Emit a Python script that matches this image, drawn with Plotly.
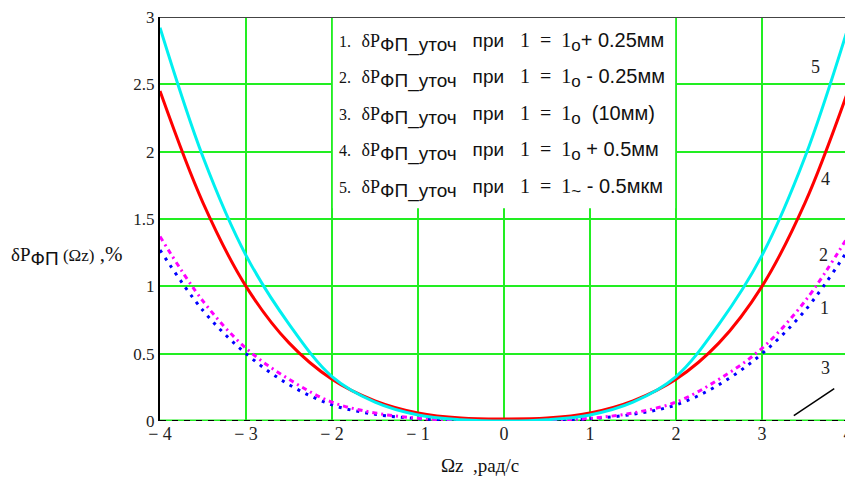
import plotly.graph_objects as go

omega = [-4, -3.5, -3, -2.5, -2, -1.5, -1, -0.5, 0, 0.5, 1, 1.5, 2, 2.5, 3, 3.5, 4]
curve1 = [1.27, 0.82, 0.50, 0.27, 0.12, 0.05, 0.017, 0.003, 0.0, 0.003, 0.017, 0.05, 0.12, 0.27, 0.50, 0.82, 1.27]
curve2 = [1.37, 0.89, 0.54, 0.31, 0.14, 0.06, 0.02, 0.004, 0.0, 0.004, 0.02, 0.06, 0.14, 0.31, 0.54, 0.89, 1.37]
curve3 = [0.0] * 17
curve4 = [2.45, 1.62, 1.0, 0.58, 0.31, 0.15, 0.06, 0.022, 0.015, 0.022, 0.06, 0.15, 0.31, 0.58, 1.0, 1.62, 2.45]
curve5 = [2.92, 1.96, 1.23, 0.72, 0.33, 0.14, 0.045, 0.01, 0.0, 0.01, 0.045, 0.14, 0.33, 0.72, 1.23, 1.96, 2.92]

pointer_x = [3.37, 3.84]
pointer_y = [0.04, 0.24]

label_text = ["5", "4", "2", "1", "3"]
label_x = [3.62, 3.74, 3.71, 3.73, 3.74]
label_y = [2.63, 1.80, 1.23, 0.84, 0.39]

x_ticks = [-4, -3, -2, -1, 0, 1, 2, 3, 4]
x_ticktext = ["\u2212 4", "\u2212 3", "\u2212 2", "\u2212 1", "0", "1", "2", "3", "4"]
y_ticks = [0, 0.5, 1, 1.5, 2, 2.5, 3]
y_ticktext = ["0", "0.5", "1", "1.5", "2", "2.5", "3"]

legend_nums = ["1.", "2.", "3.", "4.", "5."]
legend_subs = ["o", "o", "o", "o", "~"]
legend_tails = ["+ 0.25мм", " - 0.25мм", " &nbsp;(10мм)", " + 0.5мм", " - 0.5мкм"]
legend_y = [2.81, 2.54, 2.27, 2.00, 1.73]

SERIF = "Liberation Serif"
SANS = "Liberation Sans"
GRID = "#22ee22"

fig = go.Figure()

fig.add_trace(go.Scatter(x=omega, y=curve3, mode="lines",
                         line=dict(color=GRID, width=3), showlegend=False, cliponaxis=False))
fig.add_trace(go.Scatter(x=omega, y=curve3, mode="lines",
                         line=dict(color="black", width=2, dash="6px,6px"), showlegend=False,
                         cliponaxis=False))
fig.add_trace(go.Scatter(x=omega, y=curve1, mode="lines", line_shape="spline",
                         line=dict(color="#0000ff", width=3, dash="3px,6px"), showlegend=False))
fig.add_trace(go.Scatter(x=omega, y=curve2, mode="lines", line_shape="spline",
                         line=dict(color="#ff00ff", width=3, dash="5px,4px,2px,4px"), showlegend=False))
fig.add_trace(go.Scatter(x=omega, y=curve4, mode="lines", line_shape="spline",
                         line=dict(color="#ff0000", width=3), showlegend=False))
fig.add_trace(go.Scatter(x=omega, y=curve5, mode="lines", line_shape="spline",
                         line=dict(color="#00f0f0", width=3), showlegend=False))
fig.add_trace(go.Scatter(x=pointer_x, y=pointer_y, mode="lines",
                         line=dict(color="black", width=1.5), showlegend=False))

for t, lx, ly in zip(label_text, label_x, label_y):
    fig.add_annotation(x=lx, y=ly, text=t, showarrow=False,
                       font=dict(family=SERIF, size=18, color="#222"))

# legend box
fig.add_shape(type="rect", xref="x", yref="y", x0=-1.99, x1=1.99, y0=1.58, y1=3,
              fillcolor="white", line=dict(width=0), layer="above")
fig.add_shape(type="line", xref="x", yref="y", x0=-4, x1=4, y0=3, y1=3,
              line=dict(color="#444", width=2), layer="above")

for num, sub, tail, yy in zip(legend_nums, legend_subs, legend_tails, legend_y):
    txt = (f"<span style='font-family:{SERIF};font-size:16px'>{num}</span>&nbsp; "
           f"<span style='font-family:{SERIF};font-size:18px'>δP</span>"
           f"<sub><span style='font-family:{SANS};font-size:19px'>ФП_уточ</span></sub>"
           f"&nbsp; &nbsp;при&nbsp; &nbsp;"
           f"<span style='font-family:{SERIF};font-size:20px'>1 &nbsp;=&nbsp; 1</span>"
           f"<sub><span style='font-family:{SANS};font-size:17px'>{sub}</span></sub>"
           f"<span style='font-size:20px'>{tail}</span>")
    fig.add_annotation(x=-1.94, y=yy, xanchor="left", yanchor="middle", text=txt,
                       showarrow=False, font=dict(family=SANS, size=19, color="#111"))

# axis titles
fig.add_annotation(xref="paper", yref="paper", x=-0.219, y=0.41, xanchor="left",
                   yanchor="middle",
                   text=(f"<span style='font-family:{SERIF};font-size:19px'>δP</span>"
                         f"<sub><span style='font-family:{SANS};font-size:19px'>ФП</span></sub>"
                         f"<span style='font-family:{SERIF};font-size:17px'> (Ωz)</span>"
                         f"<span style='font-family:{SERIF};font-size:21px'> ,%</span>"),
                   showarrow=False, font=dict(family=SERIF, size=19, color="#111"))
fig.add_annotation(xref="paper", yref="paper", x=0.405, y=-0.11, xanchor="left",
                   yanchor="middle", text="Ωz &nbsp;,рад/с", showarrow=False,
                   font=dict(family=SERIF, size=19, color="#111"))

fig.update_xaxes(range=[-4, 4], tickmode="array", tickvals=x_ticks, ticktext=x_ticktext,
                 showgrid=True, gridcolor=GRID, gridwidth=2, automargin=False,
                 ticklabeloverflow="allow",
                 zeroline=False, showline=False, ticks="",
                 tickfont=dict(family=SERIF, size=18, color="#222"))
fig.update_yaxes(range=[0, 3], tickmode="array", tickvals=y_ticks, ticktext=y_ticktext,
                 showgrid=True, gridcolor=GRID, gridwidth=2, automargin=False,
                 ticklabeloverflow="allow",
                 zeroline=False, showline=True, linecolor="black", linewidth=2, mirror=True,
                 ticks="", tickfont=dict(family=SERIF, size=17, color="#222"))

# the page body has an 8px margin, so the figure is 8px smaller and margins shifted
fig.update_layout(width=845, height=470, margin=dict(l=152, r=5, t=9, b=57),
                  plot_bgcolor="white", paper_bgcolor="white")

fig.write_html("out.html")
